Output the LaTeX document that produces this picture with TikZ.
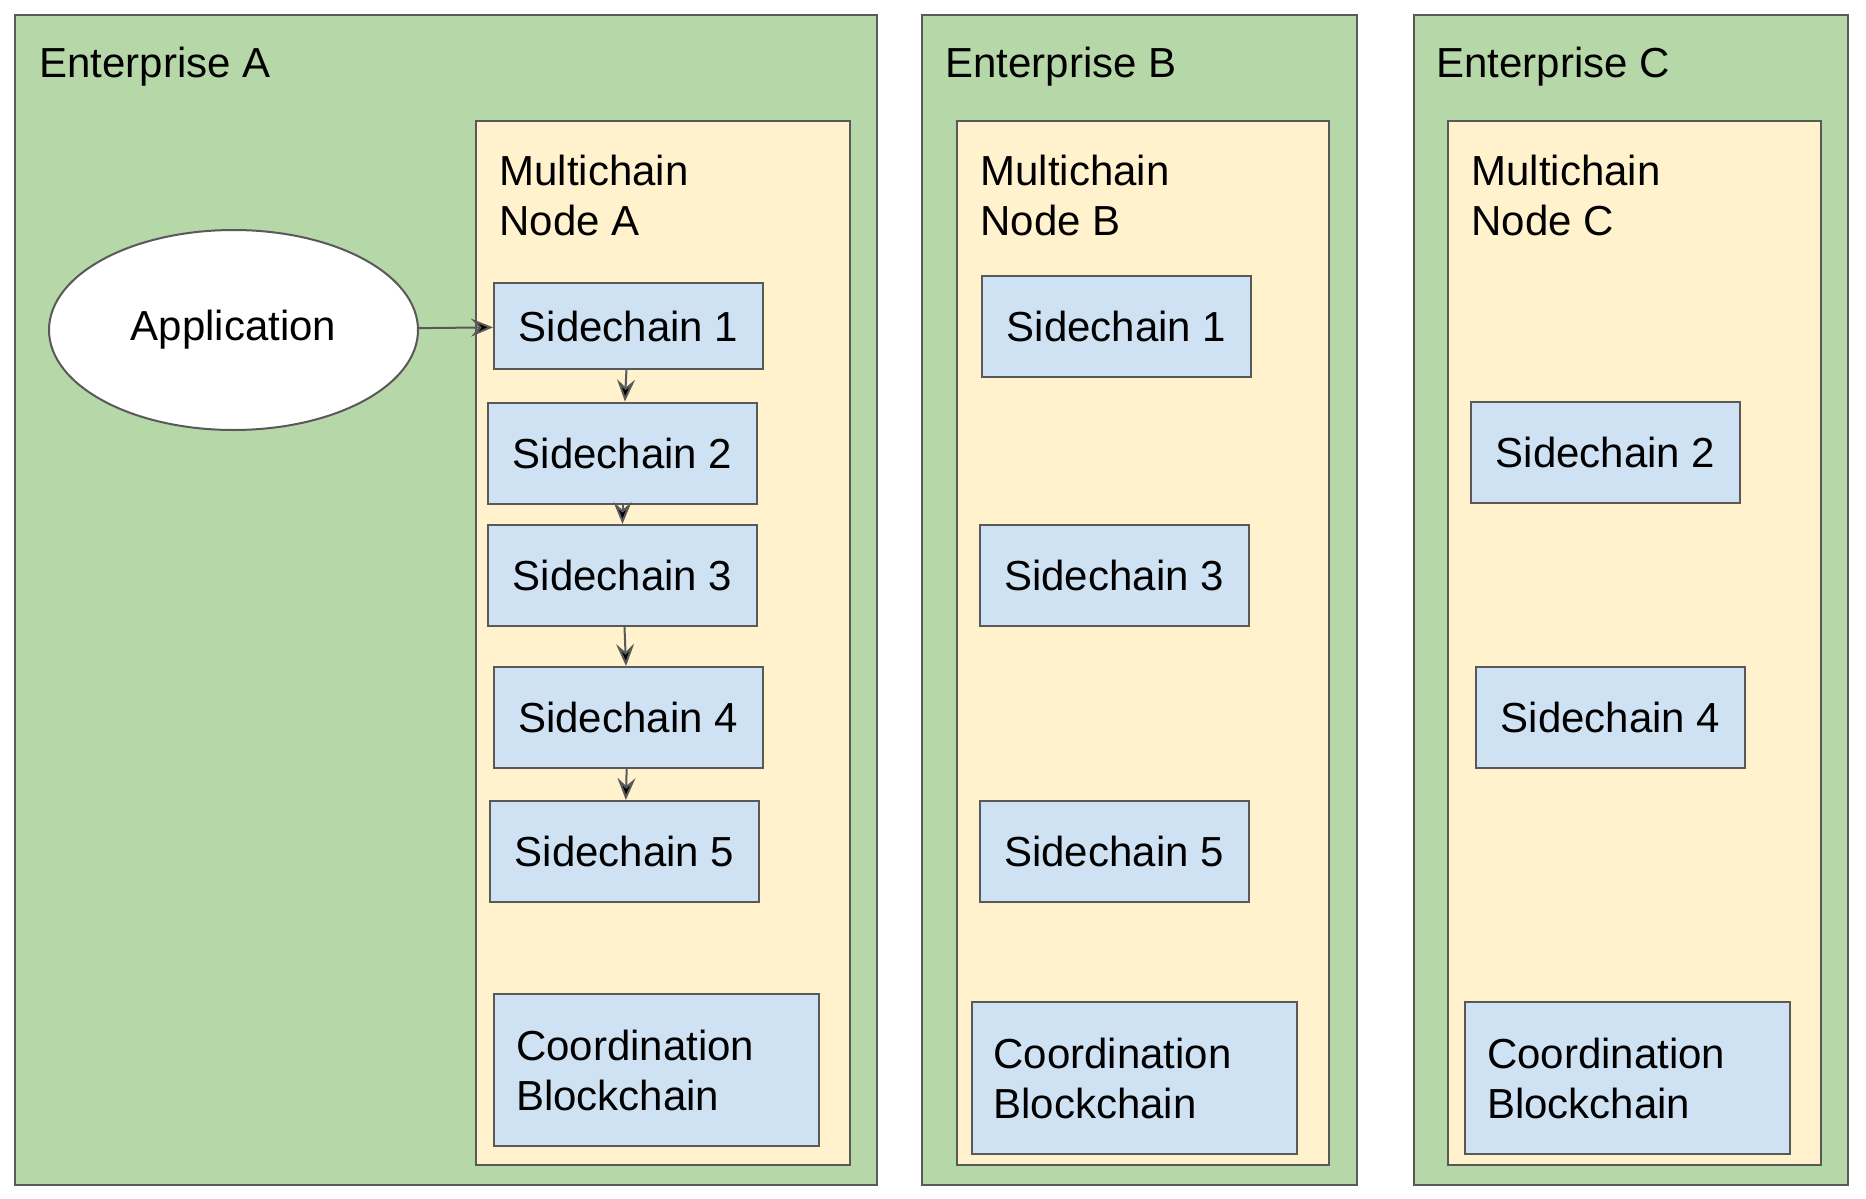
\documentclass[tikz,border=0pt]{standalone}
\usepackage{fontspec}
\setmainfont{Liberation Sans}
\usepackage{tikz}
\usetikzlibrary{arrows.meta,shapes.geometric}

\definecolor{entgreen}{HTML}{B6D7A8}
\definecolor{nodeyellow}{HTML}{FFF2CC}
\definecolor{chainblue}{HTML}{CFE2F3}
\definecolor{edgegray}{HTML}{595959}

\begin{document}
\begin{tikzpicture}[x=0.5pt,y=-0.5pt,
    font=\fontsize{21}{25}\selectfont,
    box/.style={draw=edgegray,line width=1pt,rectangle,inner sep=0pt},
    ent/.style={box,fill=entgreen},
    multi/.style={box,fill=nodeyellow,minimum height=522pt},
    side/.style={box,fill=chainblue,minimum width=134.5pt,minimum height=50.5pt},
    coord/.style={box,fill=chainblue,minimum width=162.5pt,minimum height=76pt,
      inner xsep=11pt,text width=140.5pt,align=left},
    title/.style={anchor=base west,inner sep=0pt,align=left}]
  \useasboundingbox (0,0) rectangle (1866,1198);
  % enterprises
  \node[ent,minimum width=430.75pt,minimum height=584.75pt] (EA) at (446,600) {};
  \node[ent,minimum width=217.5pt,minimum height=584.75pt] (EB) at (1139.5,600) {};
  \node[ent,minimum width=217pt,minimum height=584.75pt] (EC) at (1631,600) {};
  \node[title] (tEA) at (39,78) {Enterprise A};
  \node[title] (tEB) at (945,78) {Enterprise B};
  \node[title] (tEC) at (1436,78) {Enterprise C};
  % multichain nodes
  \node[multi,minimum width=187pt] (MA) at (663,643) {};
  \node[multi,minimum width=186pt] (MB) at (1143,643) {};
  \node[multi,minimum width=186.5pt] (MC) at (1634.5,643) {};
  \node[title] (tMA) at (499,235) {Multichain\\Node A};
  \node[title] (tMB) at (980,235) {Multichain\\Node B};
  \node[title] (tMC) at (1471,235) {Multichain\\Node C};
  % sidechains
  \node[side,minimum height=43pt] (SA1) at (628.5,326) {Sidechain 1};
  \node[side] (SA2) at (622.5,453) {Sidechain 2};
  \node[side] (SA3) at (622.5,575.5) {Sidechain 3};
  \node[side] (SA4) at (628,717.5) {Sidechain 4};
  \node[side] (SA5) at (624.5,851.5) {Sidechain 5};
  \node[side] (SB1) at (1116.5,326.5) {Sidechain 1};
  \node[side] (SB3) at (1114,575.5) {Sidechain 3};
  \node[side] (SB5) at (1114,851.5) {Sidechain 5};
  \node[side] (SC2) at (1605.5,452.5) {Sidechain 2};
  \node[side] (SC4) at (1610.5,717.5) {Sidechain 4};
  \node[coord] (CA) at (656.5,1070) {Coordination\\Blockchain};
  \node[coord] (CB) at (1134,1078) {Coordination\\Blockchain};
  \node[coord] (CC) at (1627.5,1078) {Coordination\\Blockchain};
  % application
  \node[ellipse,draw=edgegray,line width=1pt,fill=white,inner sep=0pt,
    minimum width=184.5pt,minimum height=100pt] (App) at (233.5,330) {Application};
  \path[->,draw=edgegray,line width=1pt,
      >={Stealth[length=11pt,width=9pt,inset=4pt]}]
    (App) edge (SA1)
    (SA1) edge (SA2)
    (SA2) edge (SA3)
    (SA3) edge (SA4)
    (SA4) edge (SA5);
\end{tikzpicture}
\end{document}
